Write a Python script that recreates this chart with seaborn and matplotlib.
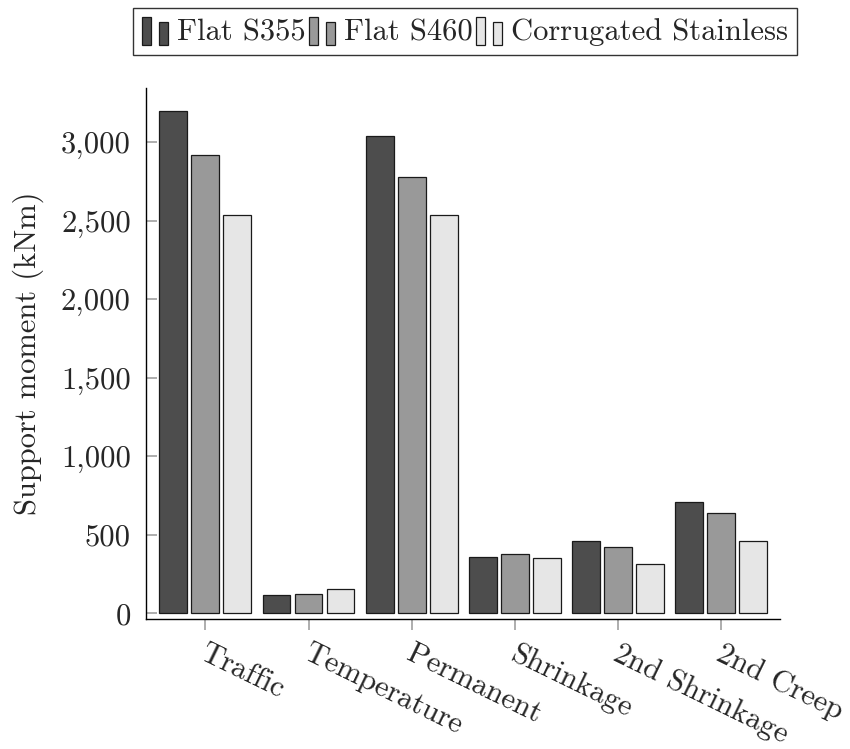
import matplotlib
matplotlib.use("Agg")
import matplotlib.pyplot as plt
from matplotlib.legend_handler import HandlerBase
from matplotlib.patches import Rectangle
from matplotlib.ticker import FuncFormatter, MultipleLocator
from matplotlib.transforms import ScaledTranslation
import pandas as pd
import seaborn as sns

# Support moments per load case (kNm)
load_cases = ["Traffic", "Temperature", "Permanent", "Shrinkage",
              "2nd Shrinkage", "2nd Creep"]
flat_s355 = [3200, 115, 3040, 360, 462, 708]
flat_s460 = [2920, 124, 2780, 378, 421, 638]
corrugated_stainless = [2540, 156, 2540, 355, 317, 463]

series_names = ["Flat S355", "Flat S460", "Corrugated Stainless"]
series_colors = ["#4d4d4d", "#999999", "#e6e6e6"]

df = pd.DataFrame({
    "case": load_cases * 3,
    "series": [series_names[0]] * 6 + [series_names[1]] * 6 + [series_names[2]] * 6,
    "moment": flat_s355 + flat_s460 + corrugated_stainless,
})

sns.set_theme(style="white")
plt.rcParams["font.family"] = ["cmr10", "DejaVu Serif"]
plt.rcParams["axes.unicode_minus"] = False
plt.rcParams["axes.formatter.use_mathtext"] = False

fig = plt.figure(figsize=(8.5, 7.49), dpi=100)
ax = fig.add_axes([0.1718, 0.1736, 0.9176 - 0.1718, 0.8825 - 0.1736])

sns.barplot(data=df, x="case", y="moment", hue="series", order=load_cases,
            hue_order=series_names, palette=series_colors, width=0.93,
            gap=0.13, edgecolor="#1a1a1a", linewidth=0.9, saturation=1,
            legend=False, ax=ax)

ax.set_xlim(-0.575, 5.57)
ax.set_ylim(-35, 3346)
ax.yaxis.set_major_locator(MultipleLocator(500))
ax.yaxis.set_major_formatter(FuncFormatter(lambda v, p: f"{int(round(v)):,}"))

for side in ("top", "right"):
    ax.spines[side].set_visible(False)
for side in ("left", "bottom"):
    ax.spines[side].set_color("black")
    ax.spines[side].set_linewidth(1.0)

fs = 22
ax.tick_params(axis="y", direction="in", length=8, width=1.2, color="#a0a0a0",
               labelsize=fs, pad=11, left=True)
ax.tick_params(axis="x", direction="out", length=8, width=1.2, color="#a0a0a0",
               labelsize=fs, pad=7, bottom=True)
shift = ScaledTranslation(3 / 100, 0, fig.dpi_scale_trans)
for lbl in ax.get_xticklabels():
    lbl.set_rotation(-26)
    lbl.set_ha("left")
    lbl.set_va("top")
    lbl.set_rotation_mode("anchor")
    lbl.set_transform(lbl.get_transform() + shift)

ax.set_xlabel("")
ax.set_ylabel("Support moment (kNm)", fontsize=fs, labelpad=12)


class TwoBarHandler(HandlerBase):
    """Legend image made of a tall and a short bar."""

    def create_artists(self, legend, orig_handle, xdescent, ydescent,
                       width, height, fontsize, trans):
        fc = orig_handle.get_facecolor()
        bw = width * 0.34
        tall = Rectangle((-xdescent, -ydescent - height * 0.1), bw, height * 1.1,
                         facecolor=fc, edgecolor="#1a1a1a", linewidth=0.9,
                         transform=trans)
        short = Rectangle((-xdescent + width - bw, -ydescent - height * 0.1), bw,
                          height * 0.9, facecolor=fc, edgecolor="#1a1a1a",
                          linewidth=0.9, transform=trans)
        return [tall, short]


handles = [Rectangle((0, 0), 1, 1, facecolor=c) for c in series_colors]
leg = fig.legend(handles, series_names, loc="center",
                 bbox_to_anchor=(0.547, 0.958), ncol=3, fontsize=fs,
                 frameon=True, fancybox=False, edgecolor="black",
                 handler_map={Rectangle: TwoBarHandler()},
                 handlelength=0.85, handleheight=0.9, handletextpad=0.3,
                 columnspacing=0.1, borderpad=0.3, borderaxespad=0)
leg.get_frame().set_linewidth(1.0)

fig.savefig("out.png", dpi=100)
